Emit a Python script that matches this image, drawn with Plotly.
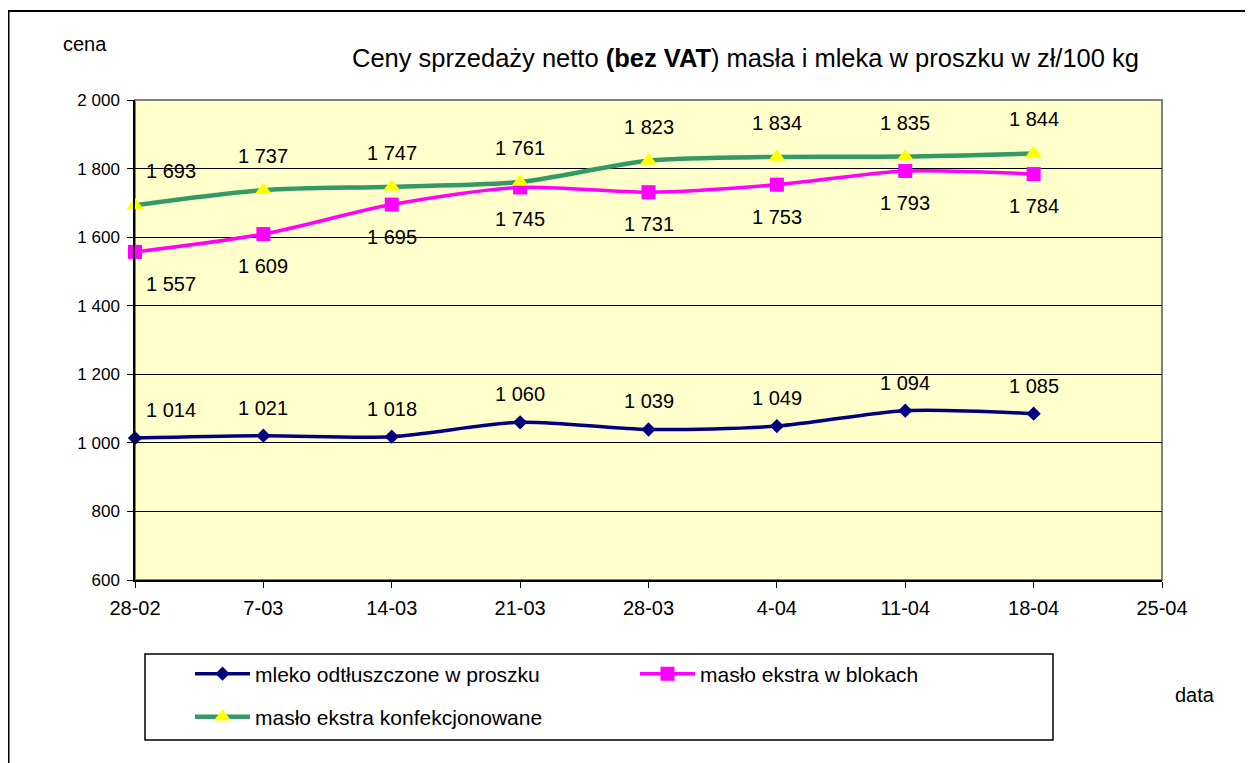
import plotly.graph_objects as go

categories = ["28-02", "7-03", "14-03", "21-03", "28-03", "4-04", "11-04", "18-04", "25-04"]
dates = categories[:8]
mleko = [1014, 1021, 1018, 1060, 1039, 1049, 1094, 1085]
maslo_bloki = [1557, 1609, 1695, 1745, 1731, 1753, 1793, 1784]
maslo_konf = [1693, 1737, 1747, 1761, 1823, 1834, 1835, 1844]
y_ticks = [600, 800, 1000, 1200, 1400, 1600, 1800, 2000]

OFF = 8  # page body margin
W, H = 1253 - OFF, 763 - OFF
ML, MT = 135 - OFF, 100 - OFF
MR = W - (1162 - OFF)
MB = H - (580 - OFF)
PW, PH = W - ML - MR, H - MT - MB


def fmt(v):
    return f"{v:,}".replace(",", " ")


def px_x(p):
    return (p - OFF - ML) / PW


def px_y(p):
    return (H - MB - (p - OFF)) / PH


FONT = "Liberation Sans, Arial, sans-serif"
fig = go.Figure()

fig.add_trace(go.Scatter(
    x=dates, y=mleko, name="mleko odtłuszczone w proszku", mode="lines+markers",
    line=dict(color="#000080", width=3.5, shape="spline", smoothing=0.8),
    marker=dict(symbol="diamond", size=11, color="#000080"), legend="legend", cliponaxis=False,
))
fig.add_trace(go.Scatter(
    x=dates, y=maslo_bloki, name="masło ekstra w blokach", mode="lines+markers",
    line=dict(color="#FF00FF", width=3.5, shape="spline", smoothing=0.8),
    marker=dict(symbol="square", size=14, color="#FF00FF"), legend="legend", cliponaxis=False,
))
fig.add_trace(go.Scatter(
    x=dates, y=maslo_konf, name="masło ekstra konfekcjonowane", mode="lines+markers",
    line=dict(color="#339966", width=4.5, shape="spline", smoothing=0.8),
    marker=dict(symbol="triangle-up", size=15, color="#FFFF00"), legend="legend2", cliponaxis=False,
))

annotations = []
for series, yshift in ((mleko, 28), (maslo_bloki, -32), (maslo_konf, 34)):
    for i, (d, v) in enumerate(zip(dates, series)):
        annotations.append(dict(
            x=d, y=v, xref="x", yref="y", text=fmt(v), showarrow=False,
            yshift=yshift, xshift=36 if i == 0 else 0,
            font=dict(family=FONT, size=20, color="#000000"),
        ))

annotations += [
    dict(xref="paper", yref="paper", x=px_x(745), y=px_y(58),
         text="Ceny sprzedaży netto <b>(bez VAT</b>) masła i mleka w proszku w zł/100 kg",
         showarrow=False, font=dict(family=FONT, size=25.5, color="#000000"), xanchor="center", yanchor="middle"),
    dict(xref="paper", yref="paper", x=px_x(85), y=px_y(44), text="cena",
         showarrow=False, font=dict(family=FONT, size=20, color="#000000"), xanchor="center", yanchor="middle"),
    dict(xref="paper", yref="paper", x=px_x(1195), y=px_y(695), text="data",
         showarrow=False, font=dict(family=FONT, size=20, color="#000000"), xanchor="center", yanchor="middle"),
]

shapes = [
    dict(type="rect", xref="paper", yref="paper", x0=0, x1=1, y0=0, y1=1,
         line=dict(color="#808080", width=2), layer="below"),
    # legend box
    dict(type="rect", xref="paper", yref="paper", x0=px_x(145), x1=px_x(1053), y0=px_y(654), y1=px_y(740),
         line=dict(color="#000000", width=1.5)),
    # outer frame
    dict(type="line", xref="paper", yref="paper", x0=px_x(8), x1=px_x(1260), y0=px_y(11), y1=px_y(11),
         line=dict(color="#000000", width=2)),
    dict(type="line", xref="paper", yref="paper", x0=px_x(8.5), x1=px_x(8.5), y0=px_y(11), y1=px_y(770),
         line=dict(color="#000000", width=2)),
]

legend_common = dict(
    orientation="h", xanchor="left", yanchor="middle",
    entrywidth=375, entrywidthmode="pixels",
    borderwidth=0, bgcolor="rgba(0,0,0,0)",
    font=dict(family=FONT, size=21, color="#000000"),
    itemwidth=55,
)

fig.update_layout(
    width=W, height=H,
    margin=dict(l=ML, r=MR, t=MT, b=MB),
    paper_bgcolor="#FFFFFF", plot_bgcolor="#FFFFCC",
    showlegend=True,
    legend=dict(x=px_x(190), y=px_y(674), **legend_common),
    legend2=dict(x=px_x(190), y=px_y(717), **legend_common),
    xaxis=dict(
        type="category", categoryorder="array", categoryarray=categories,
        range=[0, 8], tickvals=categories, ticktext=categories,
        showgrid=False, showline=True, linecolor="#000000", linewidth=1.5,
        ticks="outside", ticklen=6, tickcolor="#000000", ticklabelstandoff=3,
        tickfont=dict(family=FONT, size=20, color="#000000"), zeroline=False,
    ),
    yaxis=dict(
        range=[600, 2000], tickvals=y_ticks, ticktext=[fmt(v) for v in y_ticks],
        showgrid=True, gridcolor="#000000", gridwidth=1,
        showline=True, linecolor="#000000", linewidth=1.5,
        ticks="outside", ticklen=6, tickcolor="#000000", ticklabelstandoff=4,
        tickfont=dict(family=FONT, size=17, color="#000000"), zeroline=False,
    ),
    annotations=annotations,
    shapes=shapes,
)

fig.write_html("out.html")
